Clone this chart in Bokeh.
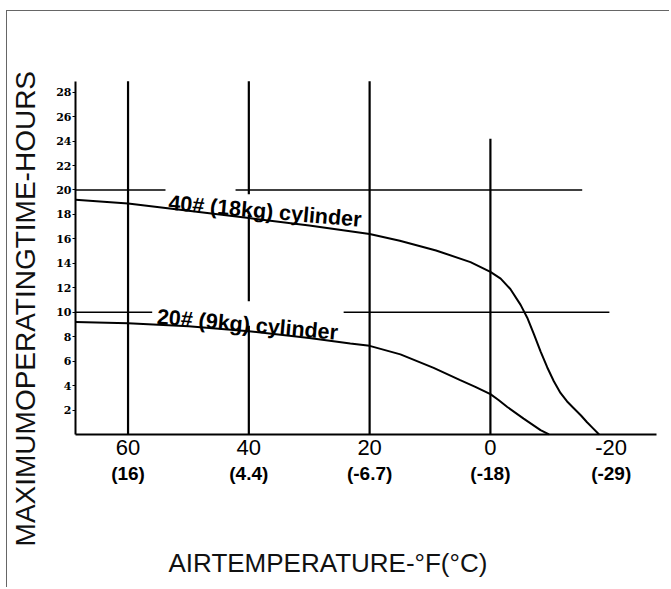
from bokeh.plotting import figure
from bokeh.models import Range1d, FixedTicker, LinearAxis
from bokeh.core.properties import value
from bokeh.embed import file_html
from bokeh.resources import INLINE
import math

# ---- data ----
temp_f_40 = [68.7, 60, 50, 40, 30, 20, 15, 9, 3.3, 0, -1.7, -3.3, -5.0, -6.1,
             -7.2, -8.3, -9.4, -10.5, -11.6, -12.7, -13.8, -15.0, -16.0, -17.0, -18.0]
hours_40 = [19.2, 18.9, 18.3, 17.7, 17.1, 16.4, 15.85, 15.05, 14.1, 13.3, 12.75,
            11.9, 10.6, 9.55, 8.2, 6.8, 5.5, 4.35, 3.4, 2.7, 2.15, 1.55, 1.0, 0.5, 0.0]

temp_f_20 = [68.7, 60, 50, 40, 30, 23.2, 20, 14.9, 9.4, 5.0, 2.5, 0, -1.4, -2.8,
             -5.5, -8.3, -9.7]
hours_20 = [9.2, 9.1, 8.85, 8.45, 7.9, 7.45, 7.25, 6.55, 5.45, 4.45, 3.9, 3.3, 2.8,
            2.25, 1.3, 0.35, 0.0]

# reference lines (data coordinates)
hline_y = [20, 20, 10, 10]
hline_x0 = [68.7, 42.2, 68.7, 24.3]
hline_x1 = [53.8, -15.2, 56.0, -19.7]

vline_x = [60, 40, 40, 40, 20, 0]
vline_y0 = [0, 0, 10.9, 19.65, 0, 0]
vline_y1 = [28.9, 8.9, 17.95, 28.9, 28.9, 24.2]

f_ticks = [60, 40, 20, 0, -20]
f_labels = ["60", "40", "20", "0", "-20"]
c_labels = ["(16)", "(4.4)", "(-6.7)", "(-18)", "(-29)"]
y_ticks = [2, 4, 6, 8, 10, 12, 14, 16, 18, 20, 22, 24, 26, 28]

curve_labels = ["40# (18kg) cylinder", "20# (9kg) cylinder"]
label_x = [53.3, 55.2]
label_y = [18.95, 9.63]

x_title = "AIRTEMPERATURE-°F(°C)"
y_title = "MAXIMUMOPERATINGTIME-HOURS"

# chart area: x from 68.7 to -27.5 degF, y from 0 to 28.9 hours
X_LEFT, X_RIGHT = 68.7, -27.5
Y_TOP = 28.9

# ---- figure (frame covers the whole canvas; axes are pinned) ----
p = figure(width=663, height=577,
           x_range=Range1d(79.96, -29.82), y_range=Range1d(-12.6, 34.6),
           output_backend="svg", toolbar_location=None, min_border=0,
           background_fill_color="white", border_fill_color="white")
p.outline_line_color = None
p.grid.visible = False
p.styles = {"margin-left": "6px", "margin-top": "10px",
            "border-top": "1px solid #666666", "border-left": "1px solid #666666"}

# x axis (deg F)
xa = p.xaxis[0]
xa.fixed_location = 0
xa.bounds = (X_RIGHT, X_LEFT)
xa.ticker = FixedTicker(ticks=f_ticks)
xa.major_label_overrides = {k: v for k, v in zip(f_ticks, f_labels)}
xa.axis_line_width = 2
xa.axis_line_color = "black"
xa.major_tick_line_color = None
xa.minor_tick_line_color = None
xa.major_label_standoff = 0
xa.major_label_text_font = "Liberation Sans"
xa.major_label_text_font_size = "22px"
xa.major_label_text_color = "black"

# second x axis (deg C)
ax2 = LinearAxis(ticker=FixedTicker(ticks=f_ticks), fixed_location=0,
                 major_label_overrides={k: v for k, v in zip(f_ticks, c_labels)})
ax2.axis_line_color = None
ax2.major_tick_line_color = None
ax2.minor_tick_line_color = None
ax2.major_label_standoff = 23
ax2.major_label_text_font = "Liberation Sans"
ax2.major_label_text_font_style = "bold"
ax2.major_label_text_font_size = "19px"
ax2.major_label_text_color = "black"
p.add_layout(ax2, "below")

# y axis
ya = p.yaxis[0]
ya.fixed_location = X_LEFT
ya.bounds = (0, Y_TOP)
ya.ticker = FixedTicker(ticks=y_ticks)
ya.axis_line_width = 2
ya.axis_line_color = "black"
ya.major_tick_out = 3
ya.major_tick_in = 0
ya.major_tick_line_color = "black"
ya.minor_tick_line_color = None
ya.major_label_standoff = 1
ya.major_label_text_font = "DejaVu Serif"
ya.major_label_text_font_style = "bold"
ya.major_label_text_font_size = "11px"
ya.major_label_text_color = "black"

# reference lines
p.segment(x0=vline_x, y0=vline_y0, x1=vline_x, y1=vline_y1,
          line_color="black", line_width=2.2)
p.segment(x0=hline_x0, y0=hline_y, x1=hline_x1, y1=hline_y,
          line_color="black", line_width=1.4)

# curves
p.line(temp_f_40, hours_40, line_color="black", line_width=2)
p.line(temp_f_20, hours_20, line_color="black", line_width=2)

# curve labels
p.text(x=label_x, y=label_y, text=curve_labels, angle=-0.088,
       text_font=value("Liberation Sans"), text_font_style="bold",
       text_font_size="21.5px", text_align="left", text_baseline="alphabetic",
       text_color="black")

# axis titles (placed as in the reference)
p.text(x=[53.3], y=[-10.55], text=[x_title], text_align="left",
       text_baseline="middle", text_font=value("Liberation Sans"),
       text_font_size="26px", text_color="#111111")
p.text(x=[76.98], y=[-9.16], text=[y_title], angle=math.pi / 2,
       text_align="left", text_baseline="middle",
       text_font=value("Liberation Sans"), text_font_size="28px",
       text_color="#111111")

open("out.html", "w").write(file_html(p, INLINE))
